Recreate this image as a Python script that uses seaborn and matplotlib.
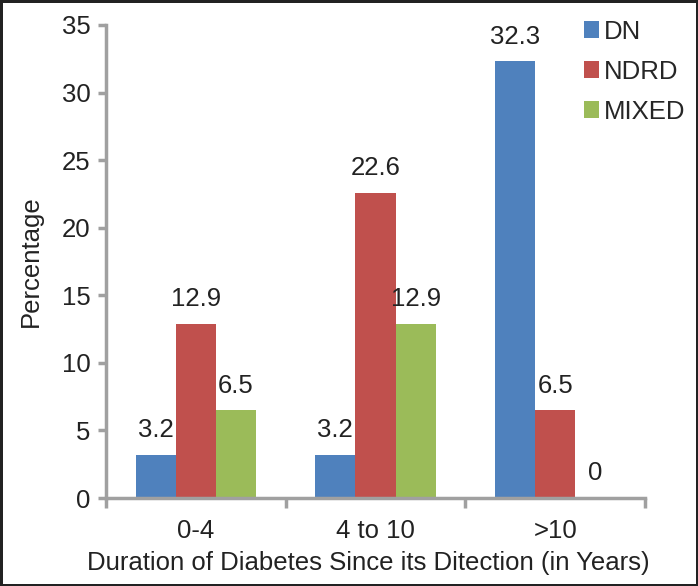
import matplotlib
matplotlib.use("Agg")
import matplotlib.pyplot as plt
import seaborn as sns
import pandas as pd
from matplotlib.ticker import FixedLocator

categories = ["0-4", "4 to 10", ">10"]
series_names = ["DN", "NDRD", "MIXED"]
dn = [3.2, 3.2, 32.3]
ndrd = [12.9, 22.6, 6.5]
mixed = [6.5, 12.9, 0]
colors = ["#4F81BD", "#C0504D", "#9BBB59"]

rows = []
for name, vals in zip(series_names, [dn, ndrd, mixed]):
    for c, v in zip(categories, vals):
        rows.append({"Duration": c, "Group": name, "Percentage": v})
df = pd.DataFrame(rows)

sns.set_style("white")
plt.rcParams['font.family'] = ['Liberation Sans', 'DejaVu Sans']
FS = 18.5

fig = plt.figure(figsize=(6.98, 5.86), dpi=100, linewidth=2.5, edgecolor="#222222")
ax = fig.add_axes([106/698, 1-498/586, (645-106)/698, (498-25)/586])

sns.barplot(data=df, x="Duration", y="Percentage", hue="Group", order=categories,
            hue_order=series_names, palette=colors, width=0.67, ax=ax,
            errorbar=None, saturation=1, linewidth=0)

for cont in ax.containers:
    ax.bar_label(cont, labels=[f"{v:g}" for v in cont.datavalues], padding=9,
                 fontsize=FS, color="#222222")

ax.set_ylim(0, 35)
ax.set_xlim(-0.5, 2.5)
ax.set_yticks(range(0, 36, 5))
ax.tick_params(axis="y", labelsize=FS, colors="#222222", length=6, width=2.5,
               color="#A0A0A0", direction="out", left=True, pad=5)
ax.tick_params(axis="x", which="major", labelsize=FS, colors="#222222", length=0, pad=15)
ax.xaxis.set_minor_locator(FixedLocator([-0.5, 0.5, 1.5, 2.5]))
ax.tick_params(axis="x", which="minor", length=7, width=2.5, color="#A0A0A0",
               direction="out", bottom=True)
for s in ["top", "right"]:
    ax.spines[s].set_visible(False)
for s in ["left", "bottom"]:
    ax.spines[s].set_color("#A0A0A0")
    ax.spines[s].set_linewidth(2.5)

ax.set_xlabel("Duration of Diabetes Since its Ditection (in Years)", fontsize=FS,
              color="#222222", labelpad=10)
ax.xaxis.set_label_coords((368-106)/539, -0.1, transform=ax.transAxes)
ax.xaxis.label.set_va("center")
ax.xaxis.set_label_coords((368-106)/539, -(563-498)/473)
ax.set_ylabel("Percentage", fontsize=FS, color="#222222", labelpad=14)

handles, labels = ax.get_legend_handles_labels()
ax.legend(handles, labels, loc="upper left", bbox_to_anchor=(576/698, 1-12/586),
          bbox_transform=fig.transFigure, frameon=False, fontsize=FS,
          handlelength=0.6, handleheight=0.6, handletextpad=0.2, labelspacing=0.62,
          borderaxespad=0, borderpad=0.3)

fig.savefig("out.png", dpi=100, edgecolor=fig.get_edgecolor())
